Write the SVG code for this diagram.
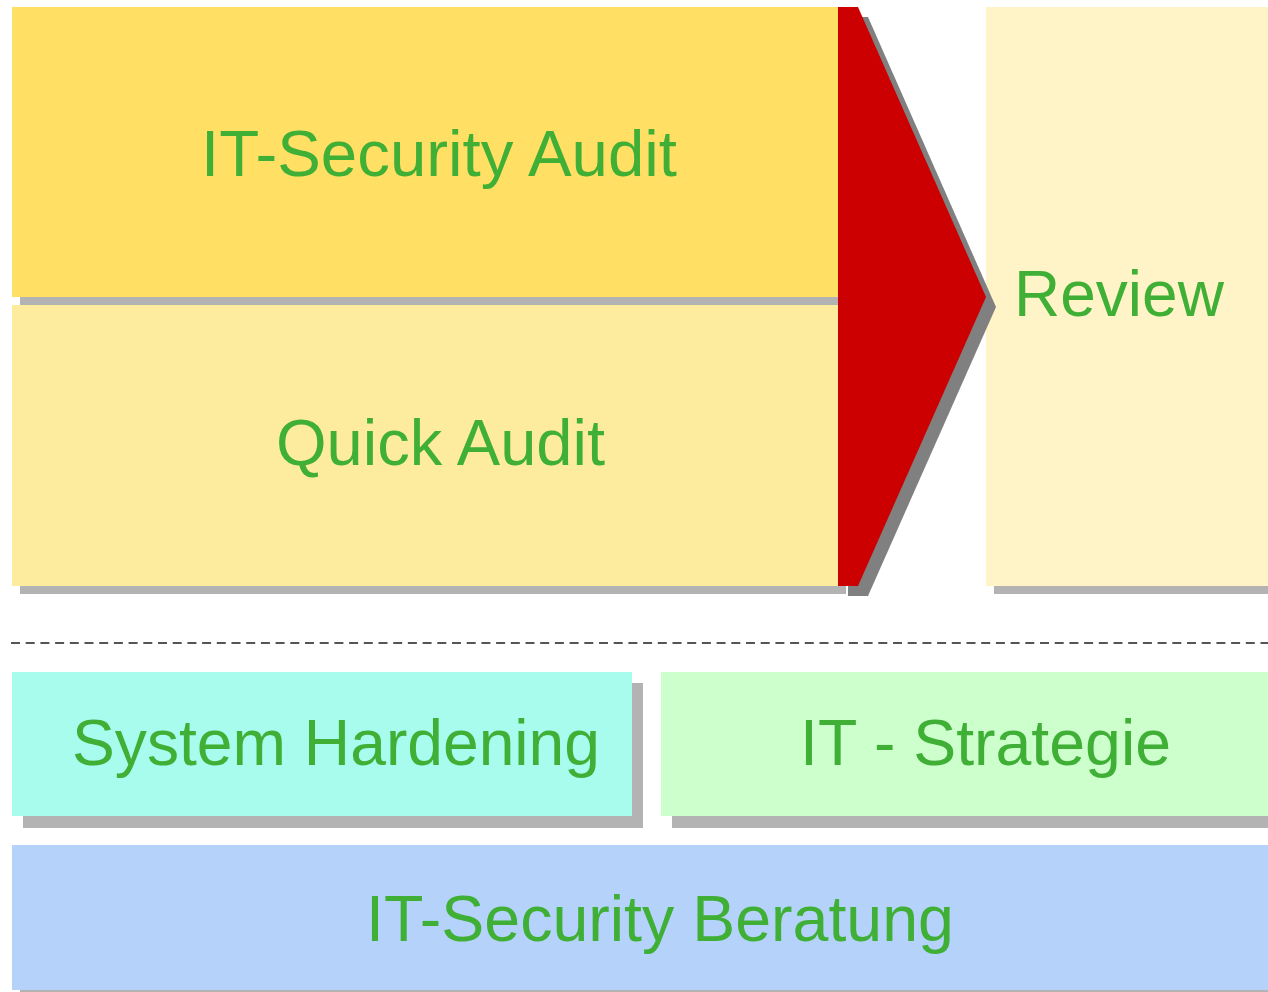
<svg xmlns="http://www.w3.org/2000/svg" width="1268" height="992" viewBox="0 0 1268 992">
<style>
.sh{fill:#B3B3B3}
.t{font-family:"Liberation Sans",Arial,sans-serif;font-size:64px;fill:#3FAF36}
</style>
<rect width="1268" height="992" fill="#FFFFFF"/>
<g id="it-security-audit">
<rect class="sh" x="20" y="15" width="826" height="290"/>
<rect x="12" y="7" width="826" height="290" fill="#FFE064"/>
<text class="t" x="201" y="176" textLength="476" lengthAdjust="spacingAndGlyphs">IT-Security Audit</text>
</g>
<g id="quick-audit">
<rect class="sh" x="20" y="313" width="826" height="281"/>
<rect x="12" y="305" width="826" height="281" fill="#FEEC9E"/>
<text class="t" x="276" y="465" textLength="329" lengthAdjust="spacingAndGlyphs">Quick Audit</text>
</g>
<g id="review">
<rect class="sh" x="994" y="15" width="274" height="579"/>
<rect x="986" y="7" width="282" height="579" fill="#FFF4C8"/>
<text class="t" x="1014" y="316">Review</text>
</g>
<g id="arrow">
<polygon points="848,17 868,17 996,307 868,596 848,596" fill="#808080"/>
<polygon points="838,7 858,7 986,297 858,586 838,586" fill="#CC0000"/>
</g>
<g id="connectors">
<line x1="11" y1="643" x2="1268" y2="643" stroke="#555555" stroke-width="2" stroke-dasharray="9 5.7"/>
</g>
<g id="system-hardening">
<rect class="sh" x="23" y="683" width="620" height="145"/>
<rect x="12" y="672" width="620" height="144" fill="#A8FCEE"/>
<text class="t" x="72" y="765" textLength="528" lengthAdjust="spacingAndGlyphs">System Hardening</text>
</g>
<g id="it-strategie">
<rect class="sh" x="672" y="683" width="596" height="145"/>
<rect x="661" y="672" width="607" height="144" fill="#CCFFCC"/>
<text class="t" x="800" y="765" textLength="371" lengthAdjust="spacingAndGlyphs">IT - Strategie</text>
</g>
<g id="it-security-beratung">
<rect class="sh" x="20" y="853" width="1248" height="145"/>
<rect x="12" y="845" width="1256" height="145" fill="#B4D2FA"/>
<text class="t" x="366" y="941" textLength="588" lengthAdjust="spacingAndGlyphs">IT-Security Beratung</text>
</g>
</svg>
